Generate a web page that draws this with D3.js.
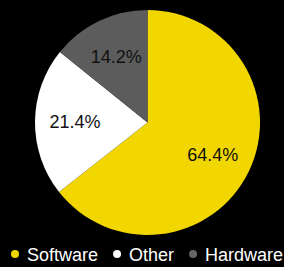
<!DOCTYPE html>
<html>
<head>
<meta charset="utf-8">
<script src="https://cdn.jsdelivr.net/npm/d3@7"></script>
<style>
  html, body { margin: 0; padding: 0; background: #000; }
  svg { display: block; }
  text { font-family: "Liberation Sans", Arial, sans-serif; }
</style>
</head>
<body>
<div id="chart"></div>
<script>
const categories = ['Software', 'Other', 'Hardware'];
const shares = [64.4, 21.4, 14.2];
const colors = ['#f2d600', '#ffffff', '#5c5c5c'];
const legendDots = ['#f2d600', '#ffffff', '#666666'];

const width = 284, height = 267;
const cx = 147.5, cy = 122.5, radius = 112.5;

const svg = d3.select('#chart').append('svg')
    .attr('width', width)
    .attr('height', height);

const data = categories.map((c, i) => ({ name: c, value: shares[i], color: colors[i] }));

const pie = d3.pie().value(d => d.value).sort(null);
const arc = d3.arc().innerRadius(0).outerRadius(radius);
const labelArc = d3.arc().innerRadius(radius * 0.645).outerRadius(radius * 0.645);

const g = svg.append('g').attr('transform', `translate(${cx},${cy})`);
const arcs = pie(data);

g.selectAll('path')
    .data(arcs)
    .join('path')
    .attr('d', arc)
    .attr('fill', d => d.data.color);

g.selectAll('text')
    .data(arcs)
    .join('text')
    .attr('transform', d => `translate(${labelArc.centroid(d)})`)
    .attr('text-anchor', 'middle')
    .attr('dy', '0.35em')
    .attr('font-size', 18)
    .attr('fill', '#111')
    .text(d => d.data.value.toFixed(1) + '%');

// legend along the bottom
const legend = svg.append('g').attr('class', 'legend');
let x = 15;
categories.forEach((c, i) => {
    legend.append('circle')
        .attr('cx', x)
        .attr('cy', 254)
        .attr('r', 4)
        .attr('fill', legendDots[i]);
    const t = legend.append('text')
        .attr('x', x + 12)
        .attr('y', 261)
        .attr('font-size', 18)
        .attr('fill', '#fff')
        .text(c);
    x += 12 + t.node().getComputedTextLength() + 19;
});
</script>
</body>
</html>
